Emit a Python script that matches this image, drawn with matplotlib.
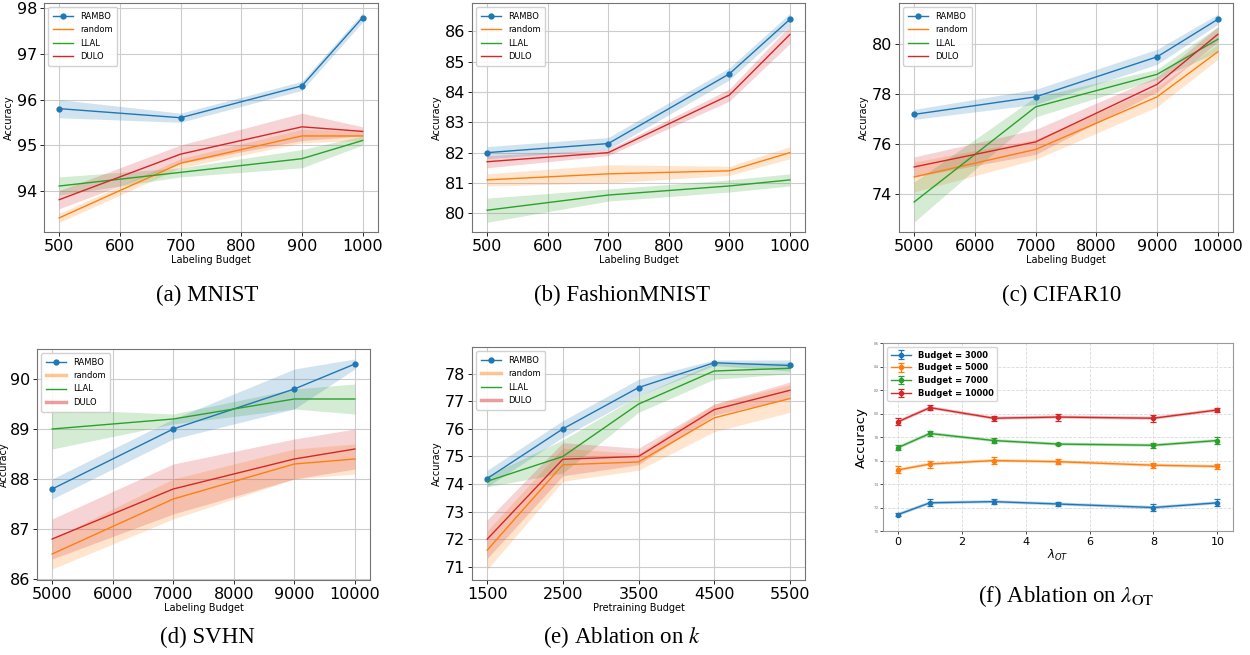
import numpy as np
import matplotlib.pyplot as plt
from matplotlib.lines import Line2D

# ---- data ----
methods = ["RAMBO", "random", "LLAL", "DULO"]
colors = ["#1f77b4", "#ff7f0e", "#2ca02c", "#d62728"]

# (a) MNIST
mnist_x = [500, 700, 900, 1000]
mnist_mean = [[95.8, 95.6, 96.3, 97.8],
              [93.4, 94.6, 95.2, 95.2],
              [94.1, 94.4, 94.7, 95.1],
              [93.8, 94.8, 95.4, 95.3]]
mnist_std = [[0.2, 0.1, 0.1, 0.1],
             [0.1, 0.1, 0.15, 0.1],
             [0.2, 0.1, 0.2, 0.1],
             [0.2, 0.2, 0.3, 0.1]]

# (b) FashionMNIST
fmnist_x = [500, 700, 900, 1000]
fmnist_mean = [[82.0, 82.3, 84.6, 86.4],
               [81.1, 81.3, 81.4, 82.0],
               [80.1, 80.6, 80.9, 81.1],
               [81.7, 82.0, 83.9, 85.9]]
fmnist_std = [[0.2, 0.2, 0.2, 0.2],
              [0.2, 0.3, 0.15, 0.2],
              [0.4, 0.2, 0.2, 0.2],
              [0.2, 0.1, 0.2, 0.3]]

# (c) CIFAR10
cifar_x = [5000, 7000, 9000, 10000]
cifar_mean = [[77.2, 77.9, 79.5, 81.0],
              [74.7, 75.8, 77.9, 79.7],
              [73.7, 77.5, 78.8, 80.2],
              [75.1, 76.1, 78.4, 80.4]]
cifar_std = [[0.2, 0.3, 0.3, 0.2],
             [0.6, 0.4, 0.4, 0.3],
             [0.8, 0.4, 0.2, 0.5],
             [0.4, 0.5, 0.3, 0.3]]

# (d) SVHN
svhn_x = [5000, 7000, 9000, 10000]
svhn_mean = [[87.8, 89.0, 89.8, 90.3],
             [86.5, 87.6, 88.3, 88.4],
             [89.0, 89.2, 89.6, 89.6],
             [86.8, 87.8, 88.4, 88.6]]
svhn_std = [[0.2, 0.2, 0.4, 0.1],
            [0.3, 0.4, 0.3, 0.3],
            [0.4, 0.1, 0.2, 0.3],
            [0.4, 0.5, 0.4, 0.4]]

# (e) ablation on k
pre_x = [1500, 2500, 3500, 4500, 5500]
pre_mean = [[74.2, 76.0, 77.5, 78.4, 78.3],
            [71.6, 74.7, 74.8, 76.4, 77.1],
            [74.1, 75.0, 76.9, 78.1, 78.2],
            [72.0, 74.9, 75.0, 76.7, 77.4]]
pre_std = [[0.3, 0.3, 0.3, 0.1, 0.2],
           [0.7, 0.6, 0.3, 0.5, 0.5],
           [0.2, 0.6, 0.3, 0.3, 0.2],
           [0.7, 0.6, 0.3, 0.2, 0.3]]

# (f) ablation on lambda_OT
lam_x = [0, 1, 3, 5, 8, 10]
budgets = ["Budget = 3000", "Budget = 5000", "Budget = 7000", "Budget = 10000"]
lam_mean = [[71.4, 72.4, 72.5, 72.3, 72.0, 72.4],
            [75.2, 75.7, 76.0, 75.9, 75.6, 75.5],
            [77.1, 78.3, 77.7, 77.4, 77.3, 77.7],
            [79.3, 80.5, 79.6, 79.7, 79.6, 80.3]]
lam_err = [[0.15, 0.3, 0.2, 0.2, 0.3, 0.3],
           [0.3, 0.3, 0.3, 0.2, 0.2, 0.2],
           [0.2, 0.2, 0.2, 0.1, 0.2, 0.3],
           [0.3, 0.2, 0.2, 0.3, 0.3, 0.2]]

fig = plt.figure(figsize=(12.5, 6.55), dpi=100)


def curve_panel(rect, x, means, stds, xticks, ylim, yticks, xlabel,
                faded_legend=False, ylabelpad=2):
    ax = fig.add_axes(rect)
    for i, name in enumerate(methods):
        m = np.array(means[i])
        s = np.array(stds[i])
        kw = dict(marker="o", markersize=3.5) if name == "RAMBO" else {}
        ax.plot(x, m, color=colors[i], lw=1.0, **kw)
        ax.fill_between(x, m - s, m + s, color=colors[i], alpha=0.2, lw=0)
    # legend handles
    handles = []
    for i, name in enumerate(methods):
        if name == "RAMBO":
            h = Line2D([], [], color=colors[i], lw=1.0, marker="o", markersize=3.5)
        elif faded_legend and name in ("random", "DULO"):
            h = Line2D([], [], color=colors[i], lw=2.5, alpha=0.45)
        else:
            h = Line2D([], [], color=colors[i], lw=1.0)
        handles.append(h)
    ax.legend(handles, methods, loc="upper left", fontsize=6, handlelength=2.4,
              labelspacing=0.5, borderpad=0.6, framealpha=0.9)
    ax.set_xticks(xticks)
    ax.set_xlim(x[0] - 0.05 * (x[-1] - x[0]), x[-1] + 0.05 * (x[-1] - x[0]))
    ax.set_ylim(*ylim)
    ax.set_yticks(yticks)
    ax.tick_params(labelsize=11.5, length=3, width=0.6, pad=2)
    ax.grid(True, color="0.8", lw=0.8)
    ax.set_axisbelow(True)
    for sp in ax.spines.values():
        sp.set_color("0.45")
        sp.set_linewidth(0.8)
    ax.set_xlabel(xlabel, fontsize=7, labelpad=1)
    ax.set_ylabel("Accuracy", fontsize=7, labelpad=ylabelpad)
    return ax


curve_panel([0.0352, 0.6458, 0.267, 0.3496], mnist_x, mnist_mean, mnist_std,
            [500, 600, 700, 800, 900, 1000], (93.09, 98.12), [94, 95, 96, 97, 98],
            "Labeling Budget")
curve_panel([0.3776, 0.6458, 0.2664, 0.3496], fmnist_x, fmnist_mean, fmnist_std,
            [500, 600, 700, 800, 900, 1000], (79.38, 86.94), [80, 81, 82, 83, 84, 85, 86],
            "Labeling Budget")
curve_panel([0.7192, 0.6458, 0.2672, 0.3496], cifar_x, cifar_mean, cifar_std,
            [5000, 6000, 7000, 8000, 9000, 10000], (72.5, 81.65), [74, 76, 78, 80],
            "Labeling Budget")
curve_panel([0.0296, 0.1145, 0.2664, 0.3527], svhn_x, svhn_mean, svhn_std,
            [5000, 6000, 7000, 8000, 9000, 10000], (85.98, 90.6), [86, 87, 88, 89, 90],
            "Labeling Budget", faded_legend=True, ylabelpad=0.5)
curve_panel([0.3776, 0.1145, 0.2664, 0.3557], pre_x, pre_mean, pre_std,
            pre_x, (70.52, 78.97), [71, 72, 73, 74, 75, 76, 77, 78],
            "Pretraining Budget", faded_legend=True)

# (f) ablation on lambda_OT
axf = fig.add_axes([0.7064, 0.1893, 0.28, 0.287])
for i, lab in enumerate(budgets):
    m = np.array(lam_mean[i])
    e = np.array(lam_err[i])
    axf.plot(lam_x, m, color=colors[i], lw=2.2, alpha=0.3)
    axf.errorbar(lam_x, m, yerr=e, color=colors[i], lw=1.0, marker="o", markersize=3,
                 capsize=2.5, elinewidth=0.9, capthick=0.9, label=lab)
axf.set_xlim(-0.47, 10.49)
axf.set_ylim(70, 86)
axf.set_yticks(np.arange(70, 87, 2))
axf.set_xticks([0, 2, 4, 6, 8, 10])
axf.tick_params(axis="y", labelsize=3, labelcolor="0.5", length=2, width=0.5, pad=1)
axf.tick_params(axis="x", labelsize=8, length=2, width=0.5, pad=2)
axf.grid(True, ls="--", color="0.85", lw=0.6)
axf.set_axisbelow(True)
for sp in axf.spines.values():
    sp.set_color("0.6")
    sp.set_linewidth(0.8)
axf.set_ylabel("Accuracy", fontsize=9.5, labelpad=4)
axf.set_xlabel(r"$\lambda_{OT}$", fontsize=8.5, labelpad=1)
axf.legend(loc="upper left", prop={"size": 6, "weight": "bold"}, handlelength=2.5,
           labelspacing=0.45, borderpad=0.4)

# sub-figure captions
cap = dict(fontsize=16.5, family="Liberation Serif", ha="center", va="center",
           math_fontfamily="stix")
fig.text(0.166, 0.5496, "(a) MNIST", **cap)
fig.text(0.498, 0.5496, "(b) FashionMNIST", **cap)
fig.text(0.849, 0.5496, "(c) CIFAR10", **cap)
fig.text(0.166, 0.0275, "(d) SVHN", **cap)
fig.text(0.498, 0.0275, r"(e) Ablation on $k$", **cap)
fig.text(0.853, 0.09, r"(f) Ablation on $\lambda_{\mathrm{OT}}$", **cap)

fig.savefig("out.png", dpi=100)
